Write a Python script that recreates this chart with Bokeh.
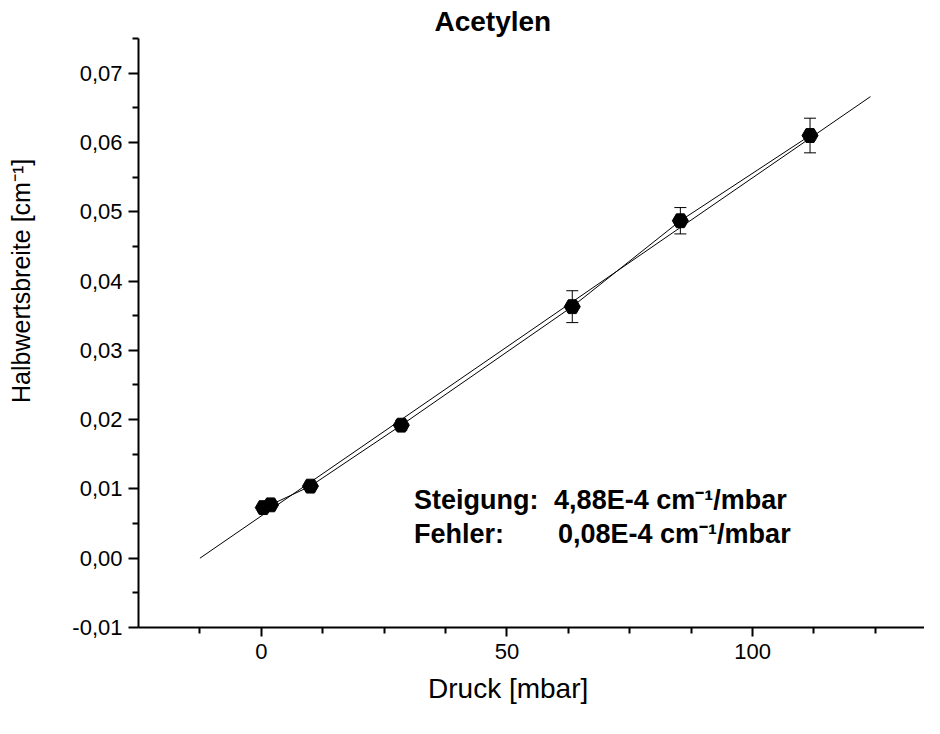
import math
from bokeh.plotting import figure
from bokeh.models import (Range1d, FixedTicker, CustomJSTickFormatter, Label,
                          Whisker, TeeHead, ColumnDataSource)
from bokeh.embed import file_html
from bokeh.resources import INLINE

# ---- data ----
pressure = [0.4, 1.9, 10.0, 28.5, 63.3, 85.3, 111.7]          # mbar
halfwidth = [0.0073, 0.0077, 0.0104, 0.0192, 0.0363, 0.0487, 0.0610]  # cm^-1
halfwidth_err = [0.0003, 0.0003, 0.0004, 0.0007, 0.0023, 0.0019, 0.0025]

fit_slope = 4.88e-4
fit_intercept = 0.0061
fit_x = [-12.5, 124.0]

x_ticks = [0, 50, 100]
x_tick_labels = ["0", "50", "100"]
x_minor = [-12.5, 12.5, 25, 37.5, 62.5, 75, 87.5, 112.5, 125]
y_ticks = [-0.01, 0.0, 0.01, 0.02, 0.03, 0.04, 0.05, 0.06, 0.07]
y_tick_labels = ["-0,01", "0,00", "0,01", "0,02", "0,03", "0,04", "0,05", "0,06", "0,07"]
y_minor = [-0.005, 0.005, 0.015, 0.025, 0.035, 0.045, 0.055, 0.065, 0.075]

title_text = "Acetylen"
x_label = "Druck [mbar]"
y_label = "Halbwertsbreite [cm\u207b\u00b9]"
ann1_a, ann1_b = "Steigung:", "4,88E-4 cm\u207b\u00b9/mbar"
ann2_a, ann2_b = "Fehler:", "0,08E-4 cm\u207b\u00b9/mbar"

FONT = "Liberation Sans"
NB = "\u00a0"

p = figure(width=924, height=718, x_range=Range1d(-25, 135), y_range=Range1d(-0.01, 0.075),
           output_backend="svg", toolbar_location=None,
           min_border_left=138, min_border_right=0, min_border_top=38, min_border_bottom=91)
p.xgrid.visible = False
p.ygrid.visible = False
p.outline_line_color = None
p.background_fill_color = "white"
p.border_fill_color = "white"

# title, shifted to where the reference has it
p.title.text = title_text
p.title.align = "left"
p.title.offset = 296
p.title.standoff = 3
p.title.text_font = FONT
p.title.text_font_size = "28px"
p.title.text_font_style = "bold"
p.title.text_color = "black"

def fmt(ticks, labels):
    return CustomJSTickFormatter(args=dict(t=ticks, l=labels), code="""
        let i = 0, b = 1e9;
        for (let k = 0; k < t.length; k++) { const d = Math.abs(t[k] - tick); if (d < b) { b = d; i = k; } }
        return l[i];
    """)

p.xaxis.ticker = FixedTicker(ticks=x_ticks, minor_ticks=x_minor)
p.xaxis.formatter = fmt(x_ticks, x_tick_labels)
p.yaxis.ticker = FixedTicker(ticks=y_ticks, minor_ticks=y_minor)
p.yaxis.formatter = fmt(y_ticks, y_tick_labels)

for ax, mo in ((p.xaxis, 9), (p.yaxis, 10)):
    ax.axis_line_width = 2
    ax.axis_line_color = "black"
    ax.major_tick_line_width = 2
    ax.minor_tick_line_width = 2
    ax.major_tick_line_color = "black"
    ax.minor_tick_line_color = "black"
    ax.major_tick_in = 0
    ax.minor_tick_in = 0
    ax.major_tick_out = mo
    ax.minor_tick_out = 6
    ax.major_label_text_font = FONT
    ax.major_label_text_font_size = "22px"
    ax.major_label_text_color = "black"
    ax.axis_label_text_font = FONT
    ax.axis_label_text_font_style = "normal"
    ax.axis_label_text_color = "black"
p.xaxis.major_label_standoff = 7
p.yaxis.major_label_standoff = 6

# axis labels: padded with no-break spaces to move them off the frame centre as in the reference
p.xaxis.axis_label = x_label + NB * 6
p.xaxis.axis_label_text_font_size = "28px"
p.xaxis.axis_label_standoff = 11
p.yaxis.axis_label = NB * 15 + y_label
p.yaxis.axis_label_text_font_size = "25px"
p.yaxis.axis_label_standoff = 34

# fit line
fit_y = [fit_intercept + fit_slope * x for x in fit_x]
p.line(fit_x, fit_y, line_color="black", line_width=1)
# connecting line through points
p.line(pressure, halfwidth, line_color="black", line_width=1)

src = ColumnDataSource(dict(x=pressure, y=halfwidth,
                            lo=[v - e for v, e in zip(halfwidth, halfwidth_err)],
                            hi=[v + e for v, e in zip(halfwidth, halfwidth_err)]))
p.add_layout(Whisker(source=src, base="x", lower="lo", upper="hi", line_color="black", line_width=1,
                     upper_head=TeeHead(size=12, line_color="black", line_width=1),
                     lower_head=TeeHead(size=12, line_color="black", line_width=1)))
p.scatter("x", "y", source=src, marker="hex", size=16, fill_color="black", line_color="black")

def lab(x, y, text, size, bold=False):
    p.add_layout(Label(x=x, y=y, text=text, text_font=FONT, text_font_size=size,
                       text_font_style="bold" if bold else "normal", text_align="left",
                       text_baseline="alphabetic", text_color="black"))

lab(31.1, 0.00833, ann1_a, "27px", bold=True)
lab(59.6, 0.00833, ann1_b, "27px", bold=True)
lab(31.1, 0.00347, ann2_a, "27px", bold=True)
lab(60.4, 0.00347, ann2_b, "27px", bold=True)

open("out.html", "w").write(file_html(p, INLINE))
